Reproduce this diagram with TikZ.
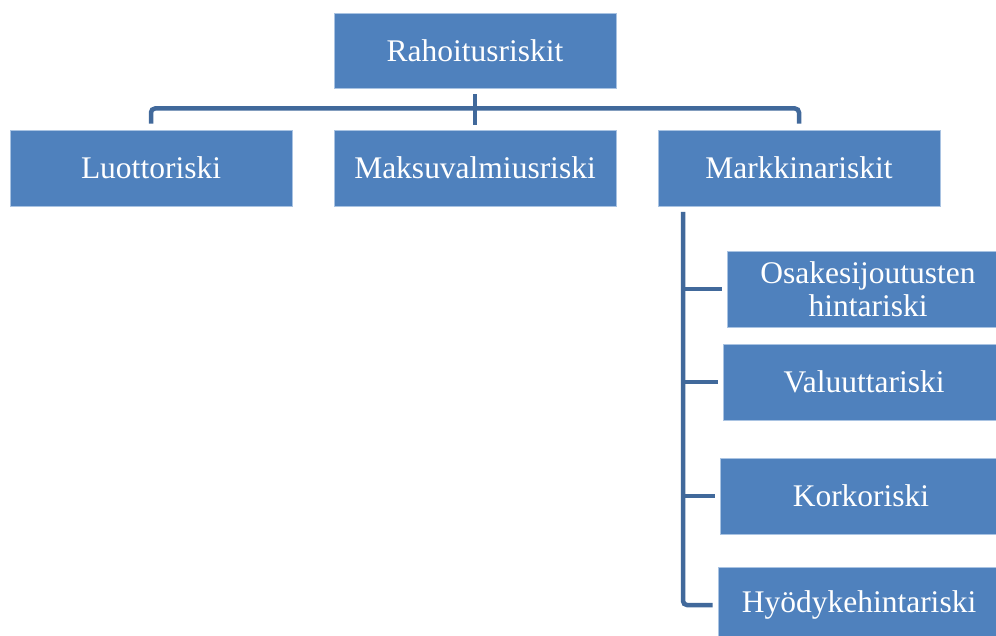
\documentclass[tikz,border=0pt]{standalone}
\usepackage{fontspec}
\setmainfont{Liberation Serif}
\definecolor{boxblue}{HTML}{4F81BD}
\definecolor{boxedge}{HTML}{A9C3E2}
\definecolor{connblue}{HTML}{41699B}
\begin{document}
\begin{tikzpicture}[x=1pt,y=-1pt,
  riskbox/.style={rectangle, fill=boxblue, draw=boxedge, line width=0.8pt,
    minimum width=282pt, minimum height=76pt, inner sep=0pt,
    text=white, align=center, font=\fontsize{31.5}{33}\selectfont},
  conn/.style={draw=connblue, line width=4.5pt}]
\useasboundingbox (0,0) rectangle (996,636);
\clip (0,0) rectangle (996,636);
\node[riskbox, minimum height=75pt] (r) at (475,50.5) {Rahoitusriskit};
\node[riskbox] (c1) at (151,168) {Luottoriski};
\node[riskbox] (c2) at (475,168) {Maksuvalmiusriski};
\node[riskbox] (c3) at (799,168) {Markkinariskit};
\node[riskbox] (s1) at (868,289) {Osakesijoutusten\\hintariski};
\node[riskbox] (s2) at (864,382) {Valuuttariski};
\node[riskbox] (s3) at (861,496) {Korkoriski};
\node[riskbox] (s4) at (859,605) {Hyödykehintariski};
\coordinate (bus) at (475,108.5);
\coordinate (rs) at (475,125);
\coordinate (vtop) at (683,212);
\draw[conn, shorten <=6pt] (r.south) -- (rs);
\draw[conn, rounded corners=4pt, shorten <=6pt, shorten >=6pt] (c1.north) |- (bus) -| (c3.north);
\draw[conn, rounded corners=4pt, shorten >=5pt] (vtop) |- (s4.west);
\draw[conn, shorten >=5pt] (s1.west -| vtop) -- (s1.west);
\draw[conn, shorten >=5pt] (s2.west -| vtop) -- (s2.west);
\draw[conn, shorten >=5pt] (s3.west -| vtop) -- (s3.west);
\end{tikzpicture}
\end{document}
